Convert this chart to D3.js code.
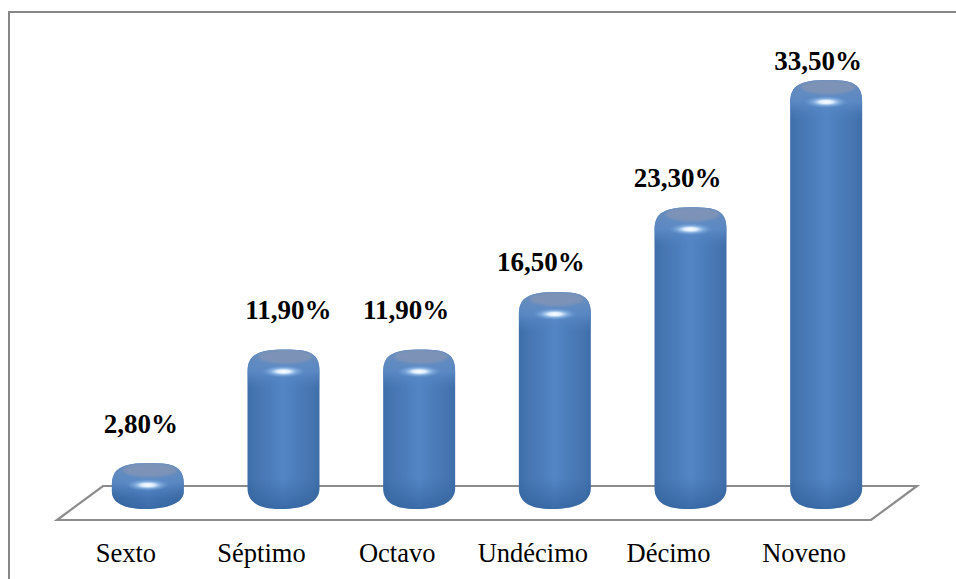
<!DOCTYPE html>
<html><head><meta charset="utf-8">
<script src="https://cdn.jsdelivr.net/npm/d3@7/dist/d3.min.js"></script>
<style>html,body{margin:0;padding:0;background:#fff;overflow:hidden}svg{display:block}text{font-family:"Liberation Serif","Times New Roman",serif;fill:#000}</style>
</head><body><script>
const categories=["Sexto","Séptimo","Octavo","Undécimo","Décimo","Noveno"];
const values=[2.8,11.9,11.9,16.5,23.3,33.5];
const labels=["2,80%","11,90%","11,90%","16,50%","23,30%","33,50%"];
const W=956,H=579;
const svg=d3.select("body").append("svg").attr("width",W).attr("height",H);
const defs=svg.append("defs");
function grad(id,vertical,stops){
  const g=defs.append("linearGradient").attr("id",id);
  if(vertical)g.attr("x1",0).attr("x2",0).attr("y1",0).attr("y2",1);
  stops.forEach(s=>g.append("stop").attr("offset",s[0]).attr("stop-color",s[1]).attr("stop-opacity",s[2]===undefined?1:s[2]));
}
grad("side",false,[[0,"#3f6ea8"],[.1,"#4574b0"],[.5,"#5385c5"],[.9,"#4574b0"],[1,"#3f6ea8"]]);
grad("bot",true,[[0,"#2f5f98",0],[1,"#2c5c96",.65]]);
grad("top",true,[[0,"#6f90bd",.9],[.55,"#5f8dc8",.8],[1,"#4f80c0",0]]);
const glow=defs.append("radialGradient").attr("id","glow");
[[0,"#ffffff",1],[.3,"#e4f2ff",.95],[.6,"#9cc4ee",.55],[1,"#6f9fd8",0]].forEach(s=>glow.append("stop").attr("offset",s[0]).attr("stop-color",s[1]).attr("stop-opacity",s[2]));
const soft=defs.append("filter").attr("id","soft").attr("x","-20%").attr("y","-20%").attr("width","140%").attr("height","140%");
soft.append("feGaussianBlur").attr("stdDeviation",.6);
const cap=defs.append("filter").attr("id","cap").attr("x","-30%").attr("y","-60%").attr("width","160%").attr("height","220%");
cap.append("feGaussianBlur").attr("stdDeviation",1);
svg.append("rect").attr("x",9).attr("y",12).attr("width",W).attr("height",H).attr("fill","#fff").attr("stroke","#868686").attr("stroke-width",2);
const x=d3.scaleBand().domain(categories).range([80,894]);
const y=d3.scaleLinear().domain([0,33.5]).range([508,90]);
const floor=d3.path();
floor.moveTo(x.range()[0]-23,520);floor.lineTo(x.range()[1]-23,520);floor.lineTo(x.range()[1]+23,486);floor.lineTo(x.range()[0]+23,486);floor.closePath();
svg.append("path").attr("d",floor.toString()).attr("fill","none").attr("stroke","#8c8c8c").attr("stroke-width",2.2);
const rx=36,ry=10,base=y(0)-10;
const data=categories.map((c,i)=>({c,v:values[i],l:labels[i],i}));
const cxOf=d=>x(d.c)+x.bandwidth()/2;
function body(d){
  const cx=cxOf(d),t=y(d.v),p=d3.path();
  const sh=Math.min(12,(base-t)/2);
  const bs=Math.min(16,(base-t)/2);
  p.moveTo(cx-rx,t+sh);
  p.bezierCurveTo(cx-rx,t-5,cx-rx*.7,t-ry,cx+2,t-ry);
  p.bezierCurveTo(cx+rx*.7,t-ry,cx+rx,t-7,cx+rx,t+sh);
  p.lineTo(cx+rx,base-bs+6);
  p.bezierCurveTo(cx+rx,base+5,cx+rx*.55,base+11,cx-3,base+11);
  p.bezierCurveTo(cx-rx*.65,base+11,cx-rx,base+5,cx-rx,base-bs+6);
  p.closePath();
  return p.toString();
}
defs.selectAll("clipPath").data(data).join("clipPath").attr("id",d=>"c"+d.i).append("path").attr("d",body);
const g=svg.selectAll("g.bar").data(data).join("g").attr("class","bar");
g.append("path").attr("d",body).attr("fill","url(#side)").attr("filter","url(#soft)");
const inner=g.append("g").attr("clip-path",d=>`url(#c${d.i})`);
inner.append("rect").attr("x",d=>cxOf(d)-rx).attr("width",2*rx).attr("y",base-20).attr("height",32).attr("fill","url(#bot)");
inner.append("rect").attr("x",d=>cxOf(d)-rx).attr("width",2*rx).attr("y",d=>y(d.v)-ry).attr("height",d=>Math.min(40,base-y(d.v)+ry)).attr("fill","url(#top)");
inner.append("ellipse").attr("cx",d=>cxOf(d)+2).attr("cy",d=>y(d.v)-3).attr("rx",27).attr("ry",7).attr("fill","#7b93b7").attr("filter","url(#cap)");
inner.append("ellipse").attr("cx",cxOf).attr("cy",d=>y(d.v)+12).attr("rx",22).attr("ry",6).attr("fill","url(#glow)");
const nudgeX=[-7,5,-13,-14,-13,-8],nudgeY=[-40,-41,-41,-31,-30,-20];
g.append("text").attr("x",d=>cxOf(d)+nudgeX[d.i]).attr("y",d=>y(d.v)+nudgeY[d.i]).attr("text-anchor","middle").attr("font-size",27).attr("font-weight","bold").text(d=>d.l);
svg.selectAll("text.cat").data(data).join("text").attr("class","cat").attr("x",d=>cxOf(d)-22).attr("y",562).attr("text-anchor","middle").attr("font-size",26.5).text(d=>d.c);
</script></body></html>
